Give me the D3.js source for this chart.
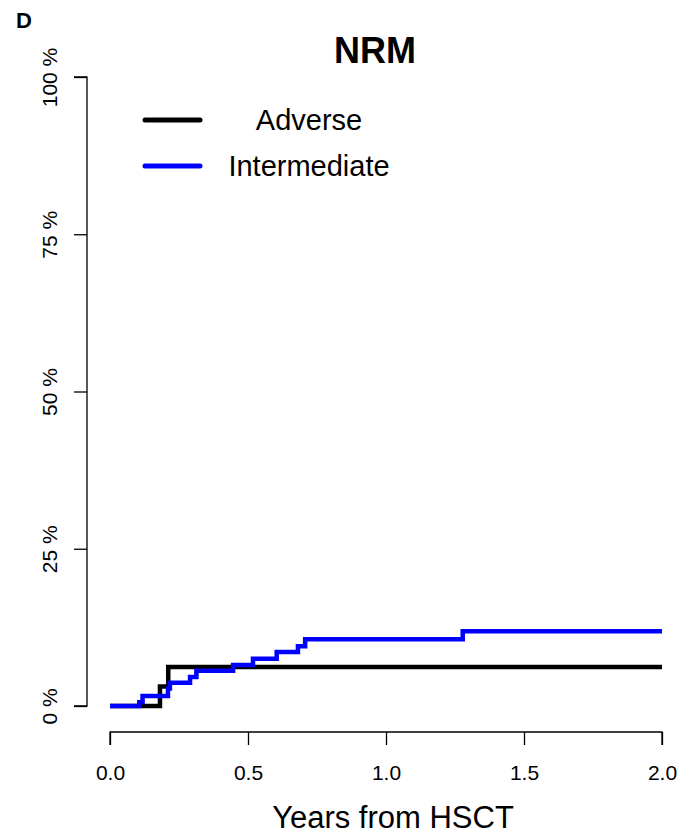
<!DOCTYPE html>
<html>
<head>
<meta charset="utf-8">
<script src="https://cdn.jsdelivr.net/npm/d3@7"></script>
<style>
  body { margin: 0; background: white; }
  text { font-family: "Liberation Sans", Arial, sans-serif; fill: black; }
</style>
</head>
<body>
<div id="chart"></div>
<script>
// cumulative incidence of NRM, step points (time in years, percent)
const adverseTimes = [0, 0.181, 0.211, 2.0];
const adverseValues = [0, 3.1, 6.2, 6.2];

const intermediateTimes = [0, 0.106, 0.118, 0.210, 0.217, 0.290, 0.313, 0.446, 0.518, 0.604, 0.681, 0.707, 1.278, 2.0];
const intermediateValues = [0, 0.6, 1.6, 2.8, 3.7, 4.6, 5.6, 6.5, 7.5, 8.6, 9.5, 10.6, 11.9, 11.9];

const xTicks = [0, 0.5, 1.0, 1.5, 2.0];
const yTicks = [0, 25, 50, 75, 100];

const groups = ['Adverse', 'Intermediate'];
const colors = ['black', '#0000ff'];

const width = 687, height = 836;

const svg = d3.select('#chart')
  .append('svg')
  .attr('width', width)
  .attr('height', height);

const x = d3.scaleLinear().domain([0, 2]).range([110, 662]);
const y = d3.scaleLinear().domain([0, 100]).range([706, 77]);

// panel letter and title
svg.append('text')
  .attr('x', 16).attr('y', 28)
  .style('font-size', '22px').style('font-weight', 'bold')
  .text('D');

svg.append('text')
  .attr('x', 375).attr('y', 63)
  .attr('text-anchor', 'middle')
  .style('font-size', '36px').style('font-weight', 'bold')
  .text('NRM');

// y axis
const yAxis = svg.append('g')
  .attr('transform', 'translate(87,0)')
  .call(d3.axisLeft(y).tickValues(yTicks).tickSize(13).tickFormat(d => d + ' %'));
yAxis.select('.domain').attr('stroke-width', 1.3).attr('d', `M-13,${y(100)}H0V${y(0)}H-13`);
yAxis.selectAll('.tick line').attr('stroke-width', 1.3);
yAxis.selectAll('.tick text')
  .attr('x', 0).attr('y', 0).attr('dy', null)
  .attr('transform', 'translate(-30,0) rotate(-90)')
  .attr('text-anchor', 'middle')
  .style('font-size', '21px')
  .style('font-family', '"Liberation Sans", Arial, sans-serif');

// x axis
const xAxis = svg.append('g')
  .attr('transform', 'translate(0,732)')
  .call(d3.axisBottom(x).tickValues(xTicks).tickSize(13).tickFormat(d3.format('.1f')));
xAxis.select('.domain').attr('stroke-width', 1.3).attr('d', `M${x(0)},13V0H${x(2)}V13`);
xAxis.selectAll('.tick line').attr('stroke-width', 1.3);
xAxis.selectAll('.tick text')
  .attr('y', 48).attr('dy', null)
  .style('font-size', '21px')
  .style('font-family', '"Liberation Sans", Arial, sans-serif');

svg.append('text')
  .attr('x', 393).attr('y', 828)
  .attr('text-anchor', 'middle')
  .style('font-size', '31px')
  .text('Years from HSCT');

// step curves
const line = d3.line()
  .x(d => x(d[0]))
  .y(d => y(d[1]))
  .curve(d3.curveStepAfter);

const series = [
  d3.zip(adverseTimes, adverseValues),
  d3.zip(intermediateTimes, intermediateValues)
];

svg.selectAll('path.curve')
  .data(series)
  .enter()
  .append('path')
  .attr('class', 'curve')
  .attr('fill', 'none')
  .attr('stroke', (d, i) => colors[i])
  .attr('stroke-width', 4.5)
  .attr('d', line);

// legend
const legend = svg.append('g');
legend.selectAll('line')
  .data(groups)
  .enter()
  .append('line')
  .attr('x1', 145).attr('x2', 200)
  .attr('y1', (d, i) => 120 + i * 46)
  .attr('y2', (d, i) => 120 + i * 46)
  .attr('stroke', (d, i) => colors[i])
  .attr('stroke-width', 5)
  .attr('stroke-linecap', 'round');
legend.selectAll('text')
  .data(groups)
  .enter()
  .append('text')
  .attr('x', 309)
  .attr('y', (d, i) => 130 + i * 46)
  .attr('text-anchor', 'middle')
  .style('font-size', '29px')
  .text(d => d);
</script>
</body>
</html>
